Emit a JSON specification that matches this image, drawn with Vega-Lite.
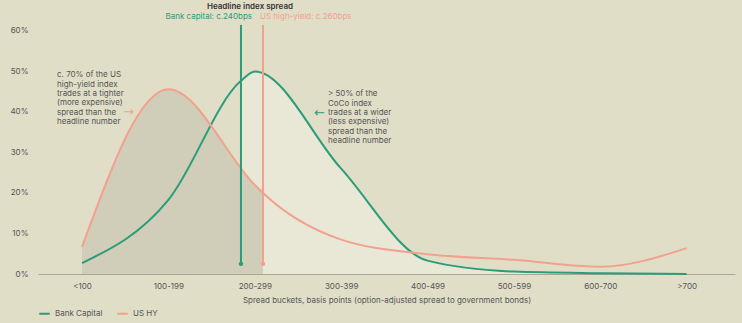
{
  "$schema": "https://vega.github.io/schema/vega-lite/v6.json",
  "width": 697,
  "height": 274,
  "autosize": {"type": "none"},
  "padding": {"left": 38, "top": 0, "right": 7, "bottom": 49},
  "background": "#e1dec8",
  "config": {"view": {"stroke": null}, "font": "Inter"},
  "datasets": {
    "curves": [
      {"series": "Bank Capital", "x": 0, "y": 2.7},
      {"series": "Bank Capital", "x": 1, "y": 18.3},
      {"series": "Bank Capital", "x": 1.84, "y": 47.7},
      {"series": "Bank Capital", "x": 2, "y": 50},
      {"series": "Bank Capital", "x": 3, "y": 26},
      {"series": "Bank Capital", "x": 4, "y": 3.3},
      {"series": "Bank Capital", "x": 5, "y": 0.6},
      {"series": "Bank Capital", "x": 6, "y": 0.2},
      {"series": "Bank Capital", "x": 7, "y": 0},
      {"series": "US HY", "x": 0, "y": 6.7},
      {"series": "US HY", "x": 1, "y": 45.6},
      {"series": "US HY", "x": 2, "y": 22},
      {"series": "US HY", "x": 2.095, "y": 20},
      {"series": "US HY", "x": 3, "y": 8.5},
      {"series": "US HY", "x": 4, "y": 4.9},
      {"series": "US HY", "x": 5, "y": 3.5},
      {"series": "US HY", "x": 6, "y": 1.8},
      {"series": "US HY", "x": 7, "y": 6.4}
    ],
    "headlines": [
      {"series": "Bank Capital", "x": 1.84, "y": 2.5, "y2": 61.5},
      {"series": "US HY", "x": 2.095, "y": 2.5, "y2": 61.5}
    ]
  },
  "encoding": {
    "x": {
      "field": "x", "type": "quantitative",
      "scale": {"domain": [-0.51, 7.56], "nice": false, "zero": false},
      "axis": {
        "values": [0, 1, 2, 3, 4, 5, 6, 7],
        "labelExpr": "['<100','100-199','200-299','300-399','400-499','500-599','600-700','>700'][datum.value]",
        "title": "Spread buckets, basis points (option-adjusted spread to government bonds)",
        "grid": false, "ticks": false, "tickSize": 0,
        "domainColor": "#a9a797", "domainWidth": 1,
        "labelPadding": 8, "labelFontSize": 8, "labelColor": "#555555", "labelFont": "Inter",
        "titleFontSize": 8, "titleFontWeight": "normal", "titleColor": "#555555", "titleFont": "Inter",
        "titlePadding": 6
      }
    },
    "y": {
      "field": "y", "type": "quantitative",
      "scale": {"domain": [0, 67.65], "nice": false},
      "axis": {
        "values": [0, 10, 20, 30, 40, 50, 60],
        "labelExpr": "datum.value + '%'",
        "title": null, "grid": false, "ticks": false, "tickSize": 0, "domain": false,
        "labelPadding": 10, "labelFontSize": 8, "labelColor": "#555555", "labelFont": "Inter"
      }
    }
  },
  "layer": [
    {
      "data": {"name": "curves"},
      "transform": [{"filter": "datum.series === 'Bank Capital' && datum.x >= 1.84"}],
      "mark": {"type": "area", "interpolate": "monotone", "color": "#e9e7d6"}
    },
    {
      "data": {"name": "curves"},
      "transform": [{"filter": "datum.series === 'US HY' && datum.x <= 2.095"}],
      "mark": {"type": "area", "interpolate": "monotone", "color": "#d0ceb9"}
    },
    {
      "data": {"name": "curves"},
      "mark": {"type": "line", "interpolate": "monotone", "strokeWidth": 2},
      "encoding": {
        "color": {
          "field": "series", "type": "nominal",
          "scale": {"domain": ["Bank Capital", "US HY"], "range": ["#2b9c79", "#f2a18f"]},
          "legend": {
            "orient": "none", "legendX": 0, "legendY": 307, "direction": "horizontal",
            "title": null, "symbolType": "stroke", "symbolStrokeWidth": 2, "symbolSize": 110,
            "labelFontSize": 8, "labelColor": "#555555", "labelFont": "Inter", "columnPadding": 10,
            "labelOffset": 4
          }
        }
      }
    },
    {
      "data": {"name": "headlines"},
      "mark": {"type": "rule", "strokeWidth": 2},
      "encoding": {
        "y2": {"field": "y2"},
        "color": {"field": "series", "type": "nominal"}
      }
    },
    {
      "data": {"name": "headlines"},
      "mark": {"type": "point", "filled": true, "opacity": 1, "size": 20},
      "encoding": {
        "color": {"field": "series", "type": "nominal"}
      }
    },
    {
      "data": {"values": [{"x": 1.944, "y": 65.9, "t": "Headline index spread"}]},
      "mark": {"type": "text", "align": "center", "baseline": "middle", "fontSize": 8, "fontWeight": 600, "color": "#333333", "font": "Inter"},
      "encoding": {"text": {"field": "t"}}
    },
    {
      "data": {"values": [{"x": 1.968, "y": 63.5, "t": "Bank capital: c.240bps"}]},
      "mark": {"type": "text", "align": "right", "baseline": "middle", "fontSize": 8, "color": "#2b9c79", "font": "Inter"},
      "encoding": {"text": {"field": "t"}}
    },
    {
      "data": {"values": [{"x": 2.06, "y": 63.5, "t": "US high-yield: c.260bps"}]},
      "mark": {"type": "text", "align": "left", "baseline": "middle", "fontSize": 8, "color": "#f2a18f", "font": "Inter"},
      "encoding": {"text": {"field": "t"}}
    },
    {
      "data": {"values": [
        {"x": -0.29, "y": 49.1, "t": "c. 70% of the US\nhigh-yield index\ntrades at a tighter\n(more expensive)\nspread than the\nheadline number"},
        {"x": 2.847, "y": 44.4, "t": "> 50% of the\nCoCo index\ntrades at a wider\n(less expensive)\nspread than the\nheadline number"}
      ]},
      "mark": {"type": "text", "align": "left", "baseline": "middle", "fontSize": 8, "lineHeight": 9.4, "lineBreak": "\n", "color": "#555555", "font": "Inter"},
      "encoding": {"text": {"field": "t"}}
    },
    {
      "data": {"values": [{"x": 0.538, "y": 40, "t": "→"}]},
      "mark": {"type": "text", "align": "center", "baseline": "middle", "fontSize": 13, "color": "#f2a18f", "font": "DejaVu Sans"},
      "encoding": {"text": {"field": "t"}}
    },
    {
      "data": {"values": [{"x": 2.749, "y": 39.75, "t": "←"}]},
      "mark": {"type": "text", "align": "center", "baseline": "middle", "fontSize": 13, "color": "#2b9c79", "font": "DejaVu Sans"},
      "encoding": {"text": {"field": "t"}}
    }
  ]
}
